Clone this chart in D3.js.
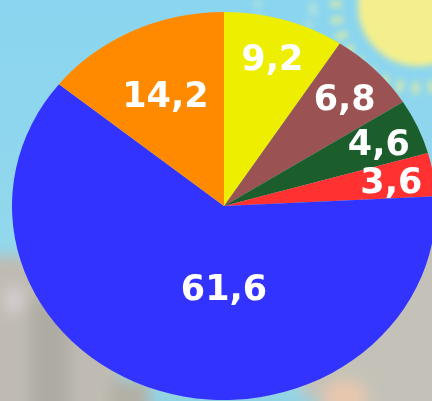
<!DOCTYPE html>
<html>
<head>
<meta charset="utf-8">
<script src="https://cdn.jsdelivr.net/npm/d3@7"></script>
<style>
  html, body { margin: 0; padding: 0; background: #8ed7ee; }
  svg { display: block; }
</style>
</head>
<body>
<script>
// ---- data ----
const categories = ["yellow", "brown", "green", "red", "blue", "orange"];
const values = [9.2, 6.8, 4.6, 3.6, 61.6, 14.2];
const labels = ["9,2", "6,8", "4,6", "3,6", "61,6", "14,2"];
const colors = ["#eeee00", "#9b5252", "#1b5e2c", "#ff3131", "#3333ff", "#ff8a00"];

const W = 432, H = 401;
const cx = 224, cy = 206, rx = 212, ry = 194;

const svg = d3.select("body").append("svg").attr("width", W).attr("height", H);
const defs = svg.append("defs");
defs.append("filter").attr("id", "blur").attr("x", "-20%").attr("y", "-20%").attr("width", "140%").attr("height", "140%")
  .append("feGaussianBlur").attr("stdDeviation", 7);
defs.append("filter").attr("id", "blur2").attr("x", "-20%").attr("y", "-20%").attr("width", "140%").attr("height", "140%")
  .append("feGaussianBlur").attr("stdDeviation", 3);
defs.append("filter").attr("id", "soft")
  .append("feGaussianBlur").attr("stdDeviation", 0.5);

// ---- background (blurred photo approximation) ----
const bg = svg.append("g");
const sky = defs.append("linearGradient").attr("id", "sky").attr("x1", 0).attr("y1", 0).attr("x2", 0).attr("y2", 1);
sky.append("stop").attr("offset", "0%").attr("stop-color", "#8ad5ef");
sky.append("stop").attr("offset", "100%").attr("stop-color", "#98d9ea");
bg.append("rect").attr("width", W).attr("height", H).attr("fill", "url(#sky)");

const ground = bg.append("g").attr("filter", "url(#blur)");
ground.append("rect").attr("x", -20).attr("y", 256).attr("width", 140).attr("height", 170).attr("fill", "#bfbbb2");
ground.append("rect").attr("x", 300).attr("y", 238).attr("width", 160).attr("height", 190).attr("fill", "#c4c2b8");
ground.append("ellipse").attr("cx", 14).attr("cy", 300).attr("rx", 10).attr("ry", 14).attr("fill", "#d6cdd0");
ground.append("rect").attr("x", 30).attr("y", 300).attr("width", 40).attr("height", 120).attr("fill", "#adaba3");
ground.append("ellipse").attr("cx", 225).attr("cy", 408).attr("rx", 95).attr("ry", 22).attr("fill", "#8fd3e2");
ground.append("ellipse").attr("cx", 345).attr("cy", 398).attr("rx", 22).attr("ry", 18).attr("fill", "#e7c7ae");
ground.append("rect").attr("x", 110).attr("y", 380).attr("width", 40).attr("height", 40).attr("fill", "#b2b0a6");

const sun = bg.append("g");
sun.append("circle").attr("cx", 418).attr("cy", 6).attr("r", 82)
  .attr("fill", "none").attr("stroke", "#d9eaa8").attr("stroke-width", 12)
  .attr("stroke-dasharray", "6 10").attr("filter", "url(#blur2)");
sun.append("circle").attr("cx", 418).attr("cy", 6).attr("r", 60)
  .attr("fill", "#f4ef8c").attr("filter", "url(#blur2)");
sun.append("circle").attr("cx", 285).attr("cy", 10).attr("r", 28)
  .attr("fill", "none").attr("stroke", "#b8e4d8").attr("stroke-width", 8)
  .attr("stroke-dasharray", "5 8").attr("filter", "url(#blur2)");

// ---- pie ----
const pie = d3.pie().value(d => d.value).sort(null);
const data = categories.map((c, i) => ({ cat: c, value: values[i], label: labels[i], color: colors[i] }));
const arcs = pie(data);
const arc = d3.arc().innerRadius(0).outerRadius(rx);

svg.append("g")
  .attr("transform", `translate(${cx},${cy}) scale(1,${ry / rx})`)
  .selectAll("path")
  .data(arcs)
  .join("path")
  .attr("d", arc)
  .attr("fill", d => d.data.color);

// ---- labels ----
const maxVal = d3.max(values);
function labelPos(d) {
  if (d.data.value === maxVal) return [cx, cy + 0.42 * ry];
  const f = d.data.value > 10 ? 0.64 : 0.8;
  const a = (d.startAngle + d.endAngle) / 2;
  return [cx + Math.sin(a) * f * rx, cy - Math.cos(a) * f * ry];
}
svg.append("g")
  .selectAll("text")
  .data(arcs)
  .join("text")
  .attr("x", d => labelPos(d)[0])
  .attr("y", d => labelPos(d)[1])
  .attr("dy", "0.36em")
  .attr("text-anchor", "middle")
  .attr("font-family", "DejaVu Sans, Verdana, sans-serif")
  .attr("font-weight", "bold")
  .attr("font-size", 35)
  .attr("fill", "#ffffff")
  .attr("filter", "url(#soft)")
  .text(d => d.data.label);
</script>
</body>
</html>
